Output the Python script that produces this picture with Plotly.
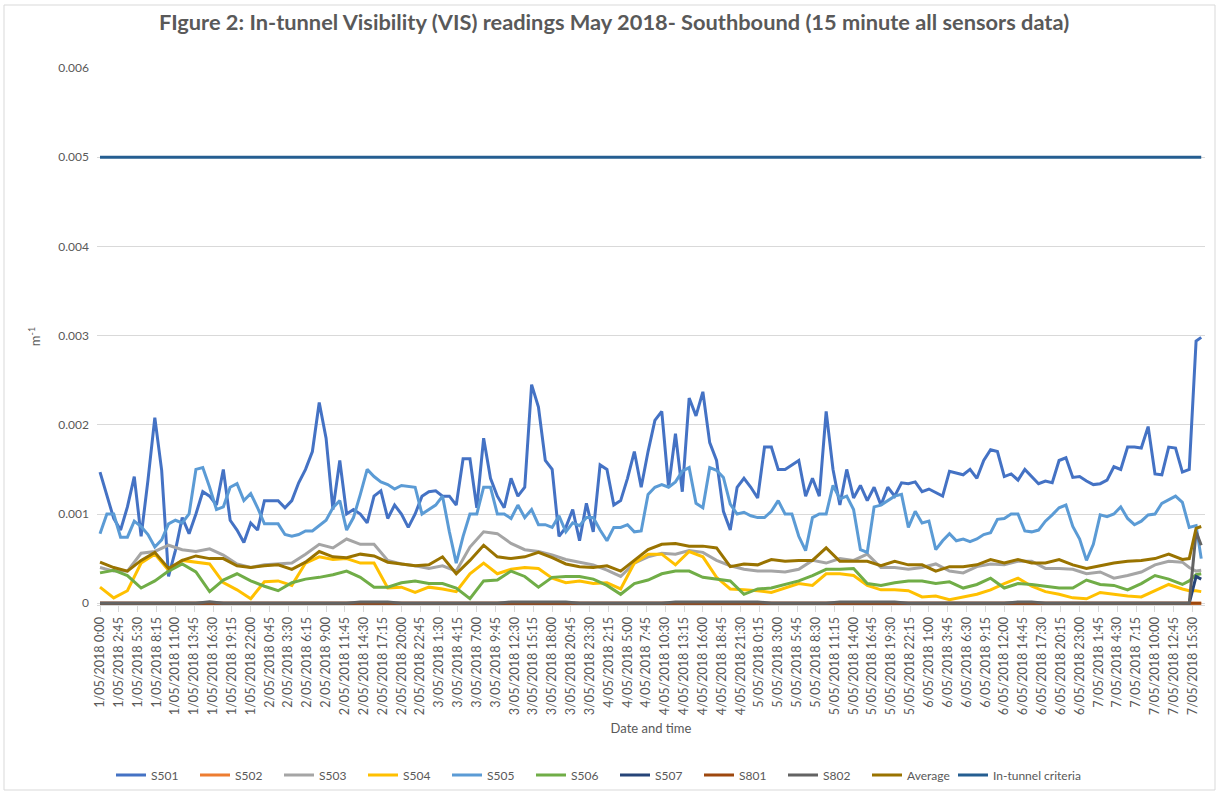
import datetime as dt
import plotly.graph_objects as go

# Values, in units of 0.001 m^-1 (converted with SCALE)
SCALE = 1e-3

# hourly readings for the two upper sensors: hours 0..160, plus final reading at 160.75 h
hourly_hours = list(range(0, 161)) + [160.75]

s501 = [1.47, 1.2, 0.95, 0.82, 1.08, 1.42, 0.75, 1.38, 2.08, 1.49,
        0.3, 0.59, 0.96, 0.78, 1.0, 1.25, 1.2, 1.1, 1.5, 0.93,
        0.82, 0.68, 0.9, 0.82, 1.15, 1.15, 1.15, 1.07, 1.15, 1.35,
        1.5, 1.7, 2.25, 1.85, 1.05, 1.6, 1.0, 1.05, 1.0, 0.9,
        1.2, 1.26, 0.95, 1.1, 1.0, 0.85, 1.0, 1.2, 1.25, 1.26,
        1.2, 1.2, 1.1, 1.62, 1.62, 1.07, 1.85, 1.4, 1.2, 1.07,
        1.4, 1.2, 1.3, 2.45, 2.2, 1.6, 1.5, 0.75, 0.85, 1.05,
        0.7, 1.12, 0.8, 1.55, 1.5, 1.1, 1.15, 1.4, 1.7, 1.3,
        1.7, 2.05, 2.15, 1.3, 1.9, 1.25, 2.3, 2.1, 2.37, 1.8,
        1.6, 1.03, 0.82, 1.3, 1.4, 1.3, 1.18, 1.75, 1.75, 1.5,
        1.5, 1.55, 1.6, 1.2, 1.4, 1.2, 2.15, 1.5, 1.1, 1.5,
        1.18, 1.32, 1.15, 1.3, 1.1, 1.3, 1.2, 1.35, 1.34, 1.36,
        1.25, 1.28, 1.24, 1.2, 1.48, 1.46, 1.44, 1.5, 1.4, 1.6,
        1.72, 1.7, 1.42, 1.45, 1.38, 1.5, 1.42, 1.34, 1.37, 1.35,
        1.6, 1.63, 1.41, 1.42, 1.37, 1.33, 1.34, 1.38, 1.53, 1.5,
        1.75, 1.75, 1.74, 1.98, 1.45, 1.44, 1.75, 1.74, 1.47, 1.5,
        2.94, 2.98]

s505 = [0.78, 1.0, 1.0, 0.74, 0.74, 0.92, 0.86, 0.77, 0.63, 0.71,
        0.89, 0.93, 0.9, 1.0, 1.5, 1.52, 1.3, 1.05, 1.08, 1.3,
        1.34, 1.15, 1.23, 1.07, 0.89, 0.89, 0.89, 0.77, 0.75, 0.77,
        0.81, 0.81, 0.87, 0.93, 1.07, 1.15, 0.82, 0.96, 1.22, 1.5,
        1.42, 1.36, 1.33, 1.28, 1.32, 1.31, 1.3, 1.0, 1.05, 1.1,
        1.2, 0.8, 0.45, 0.75, 1.0, 1.0, 1.3, 1.3, 1.0, 1.0,
        0.95, 1.1, 0.96, 1.05, 0.88, 0.88, 0.85, 0.98, 0.8, 0.9,
        0.87, 0.96, 0.96, 0.82, 0.7, 0.85, 0.85, 0.88, 0.8, 0.81,
        1.22, 1.3, 1.33, 1.3, 1.36, 1.48, 1.52, 1.12, 1.07, 1.52,
        1.49, 1.41, 1.11, 1.0, 1.02, 0.98, 0.96, 0.96, 1.03, 1.15,
        1.0, 1.0, 0.75, 0.59, 0.96, 1.0, 1.0, 1.32, 1.17, 1.2,
        1.05, 0.6, 0.57, 1.08, 1.1, 1.15, 1.2, 1.22, 0.85, 1.03,
        0.9, 0.92, 0.6, 0.7, 0.78, 0.7, 0.72, 0.69, 0.72, 0.77,
        0.79, 0.94, 0.95, 1.0, 1.0, 0.81, 0.8, 0.82, 0.92, 0.99,
        1.07, 1.1, 0.86, 0.72, 0.48, 0.66, 0.99, 0.97, 1.0, 1.08,
        0.95, 0.88, 0.92, 0.99, 1.0, 1.12, 1.16, 1.2, 1.13, 0.85,
        0.87, 0.5]

# two-hourly readings for the lower sensors: hours 0,2,..,158, then 159, 160, 160.75
twohour_hours = list(range(0, 159, 2)) + [159, 160, 160.75]

s503 = [0.40, 0.36, 0.36, 0.56, 0.58, 0.65, 0.6, 0.58, 0.61, 0.54,
        0.44, 0.40, 0.43, 0.44, 0.45, 0.55, 0.66, 0.62, 0.72, 0.66,
        0.66, 0.48, 0.44, 0.42, 0.39, 0.42, 0.36, 0.63, 0.80, 0.78,
        0.67, 0.6, 0.58, 0.54, 0.49, 0.46, 0.43, 0.37, 0.3, 0.45,
        0.52, 0.56, 0.55, 0.59, 0.57, 0.48, 0.42, 0.38, 0.36, 0.36,
        0.35, 0.38, 0.48, 0.45, 0.5, 0.48, 0.55, 0.4, 0.4, 0.38,
        0.4, 0.44, 0.36, 0.34, 0.41, 0.44, 0.43, 0.47, 0.47, 0.39,
        0.39, 0.38, 0.33, 0.35, 0.28, 0.31, 0.35, 0.43, 0.47, 0.46,
        0.4, 0.36, 0.37]

s504 = [0.18, 0.06, 0.14, 0.45, 0.55, 0.37, 0.48, 0.46, 0.44, 0.23,
        0.15, 0.05, 0.24, 0.25, 0.2, 0.45, 0.52, 0.49, 0.5, 0.45,
        0.45, 0.17, 0.18, 0.12, 0.18, 0.16, 0.13, 0.33, 0.45, 0.33,
        0.38, 0.4, 0.39, 0.28, 0.23, 0.25, 0.22, 0.23, 0.16, 0.45,
        0.55, 0.55, 0.43, 0.58, 0.52, 0.29, 0.16, 0.15, 0.14, 0.12,
        0.17, 0.22, 0.2, 0.33, 0.33, 0.31, 0.2, 0.15, 0.15, 0.14,
        0.07, 0.08, 0.04, 0.07, 0.1, 0.15, 0.22, 0.28, 0.19, 0.13,
        0.1, 0.06, 0.05, 0.12, 0.1, 0.08, 0.07, 0.14, 0.21, 0.16,
        0.14, 0.14, 0.13]

s506 = [0.34, 0.37, 0.31, 0.17, 0.25, 0.36, 0.44, 0.35, 0.13, 0.26,
        0.33, 0.25, 0.19, 0.14, 0.23, 0.27, 0.29, 0.32, 0.36, 0.29,
        0.18, 0.18, 0.23, 0.25, 0.22, 0.22, 0.17, 0.05, 0.25, 0.26,
        0.36, 0.3, 0.18, 0.29, 0.3, 0.3, 0.27, 0.2, 0.1, 0.22,
        0.26, 0.33, 0.36, 0.36, 0.29, 0.27, 0.25, 0.1, 0.16, 0.17,
        0.21, 0.25, 0.31, 0.38, 0.38, 0.39, 0.22, 0.2, 0.23, 0.25,
        0.25, 0.22, 0.24, 0.17, 0.21, 0.28, 0.17, 0.22, 0.21, 0.19,
        0.17, 0.17, 0.26, 0.21, 0.2, 0.15, 0.22, 0.31, 0.27, 0.21,
        0.25, 0.32, 0.33]

average = [0.46, 0.40, 0.36, 0.48, 0.57, 0.39, 0.48, 0.53, 0.50, 0.50,
           0.42, 0.40, 0.42, 0.43, 0.38, 0.46, 0.58, 0.52, 0.51, 0.55,
           0.53, 0.46, 0.44, 0.42, 0.43, 0.52, 0.33, 0.48, 0.65, 0.52,
           0.5, 0.52, 0.57, 0.51, 0.44, 0.41, 0.4, 0.42, 0.36, 0.48,
           0.6, 0.66, 0.67, 0.64, 0.64, 0.62, 0.41, 0.44, 0.43, 0.49,
           0.47, 0.48, 0.48, 0.62, 0.47, 0.47, 0.47, 0.42, 0.47, 0.43,
           0.43, 0.36, 0.41, 0.41, 0.43, 0.49, 0.45, 0.49, 0.45, 0.45,
           0.49, 0.43, 0.39, 0.42, 0.45, 0.47, 0.48, 0.5, 0.55, 0.49,
           0.5, 0.84, 0.86]

s502 = [0.0] * 80 + [0.0, 0.0, 0.0]
s801 = [0.0] * 80 + [0.0, 0.0, 0.0]
s507 = [0.0] * 80 + [0.0, 0.3, 0.27]
s802 = [0, 0, 0, 0, 0, 0, 0, 0, 0.015, 0,
        0, 0, 0, 0, 0, 0, 0, 0, 0, 0.015,
        0.015, 0.015, 0, 0, 0, 0, 0, 0, 0, 0,
        0.015, 0.015, 0.015, 0.015, 0.015, 0, 0, 0, 0, 0,
        0, 0, 0.015, 0.015, 0.015, 0.015, 0.015, 0.015, 0.015, 0,
        0, 0, 0, 0, 0.015, 0.015, 0.015, 0.015, 0.015, 0,
        0, 0, 0, 0, 0, 0, 0, 0.015, 0.015, 0,
        0, 0, 0, 0, 0, 0, 0, 0, 0, 0,
        0, 0.8, 0.65]

criteria_hours = [0, 160.75]
criteria = [5.0, 5.0]

series_names = ["S501", "S502", "S503", "S504", "S505", "S506", "S507",
                "S801", "S802", "Average", "In-tunnel criteria"]
series_colors = ["#4472C4", "#ED7D31", "#A5A5A5", "#FFC000", "#5B9BD5",
                 "#70AD47", "#264478", "#9E480E", "#636363", "#997300", "#255E91"]

START = dt.datetime(2018, 5, 1, 0, 0)
TICK_STEP_MIN = 165
N_TICKS = 59


def to_time(hours):
    return [START + dt.timedelta(hours=h) for h in hours]


def fmt(t):
    return f"{t.day}/{t.month:02d}/{t.year} {t.hour}:{t.minute:02d}"


tick_times = [START + dt.timedelta(minutes=TICK_STEP_MIN * i) for i in range(N_TICKS)]
tick_labels = [fmt(t) for t in tick_times]

data = {
    "S501": (hourly_hours, s501),
    "S502": (twohour_hours, s502),
    "S503": (twohour_hours, s503),
    "S504": (twohour_hours, s504),
    "S505": (hourly_hours, s505),
    "S506": (twohour_hours, s506),
    "S507": (twohour_hours, s507),
    "S801": (twohour_hours, s801),
    "S802": (twohour_hours, s802),
    "Average": (twohour_hours, average),
    "In-tunnel criteria": (criteria_hours, criteria),
}

fig = go.Figure()
for name, color in zip(series_names, series_colors):
    hrs, vals = data[name]
    fig.add_trace(go.Scatter(
        x=to_time(hrs), y=[v * SCALE for v in vals], mode="lines", name=name,
        legend="legend2" if name == "In-tunnel criteria" else "legend",
        line=dict(color=color, width=3), hoverinfo="x+y+name"))

FONT = "Lato, Calibri, Carlito, sans-serif"
TXT = "#595959"
W, H = 1219, 794
ML, MR, MT, MB = 97, 14, 68, 189

x_range = [START + dt.timedelta(hours=-0.44), START + dt.timedelta(hours=161.3)]
pw, ph = W - ML - MR, H - MT - MB
legend_y = (H - MB - 775) / ph
legend_common = dict(orientation="h", yanchor="middle", y=legend_y, xanchor="left",
                     font=dict(family=FONT, size=12, color=TXT),
                     itemwidth=30, tracegroupgap=0, bgcolor="rgba(0,0,0,0)")

fig.update_layout(
    width=W, height=H,
    margin=dict(l=ML, r=MR, t=MT, b=MB, autoexpand=False),
    paper_bgcolor="white", plot_bgcolor="white",
    font=dict(family=FONT, size=12, color=TXT),
    title=dict(text="<b>FIgure 2: In-tunnel Visibility (VIS) readings May 2018- Southbound (15 minute all sensors data)</b>",
               x=614 / W, xref="container", xanchor="center",
               y=1 - 22 / H, yref="container", yanchor="middle",
               font=dict(family=FONT, size=21.8, color=TXT)),
    showlegend=True,
    legend=dict(x=(111 - ML) / pw, entrywidth=39, **legend_common),
    legend2=dict(x=(953 - ML) / pw, **legend_common),
    xaxis=dict(type="date", range=x_range, tickmode="array",
               tickvals=tick_times, ticktext=tick_labels, tickangle=-90,
               showgrid=False, zeroline=False, showline=True, linecolor="#D9D9D9",
               ticks="outside", ticklen=6, tickcolor="#D9D9D9",
               tickfont=dict(family=FONT, size=12.6, color=TXT),
               title=dict(text="Date and time", standoff=9,
                          font=dict(family=FONT, size=13, color=TXT)),
               automargin=False),
    yaxis=dict(range=[-0.00002, 0.006], tickmode="array",
               tickvals=[0, 0.001, 0.002, 0.003, 0.004, 0.005, 0.006],
               ticktext=["0", "0.001", "0.002", "0.003", "0.004", "0.005", "0.006"],
               showgrid=True, gridcolor="#D9D9D9", gridwidth=1,
               zeroline=False, showline=False, ticks="", ticklabelstandoff=7,
               tickfont=dict(family=FONT, size=12, color=TXT),
               title=dict(text="m<sup>-1</sup>", standoff=14,
                          font=dict(family=FONT, size=13, color=TXT)),
               automargin=False),
)

# chart-area border
fig.add_shape(type="rect", xref="paper", yref="paper", layer="below",
              x0=(4 - ML) / pw, x1=(1215 - ML) / pw,
              y0=(H - MB - 790) / ph, y1=(H - MB - 5) / ph,
              line=dict(color="#D9D9D9", width=1), fillcolor="rgba(0,0,0,0)")

fig.write_html("out.html", config={"displayModeBar": False},
               post_script="document.body.style.margin='0px';document.body.style.padding='0px';")
